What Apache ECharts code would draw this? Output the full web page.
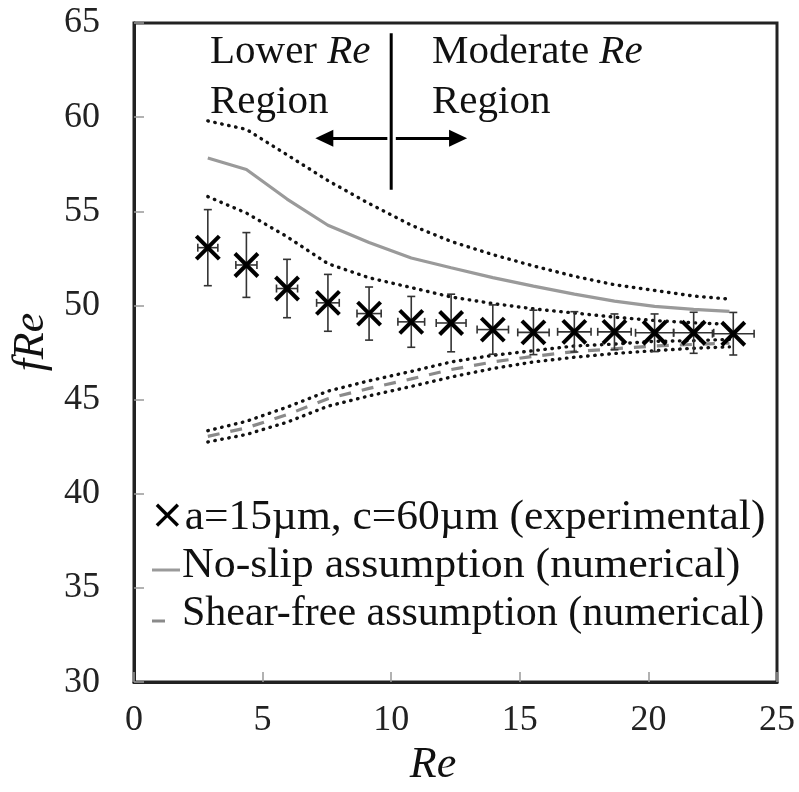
<!DOCTYPE html>
<html>
<head>
<meta charset="utf-8">
<script src="https://cdn.jsdelivr.net/npm/echarts@6/dist/echarts.min.js"></script>
<style>
  html, body { margin: 0; padding: 0; background: #fff; }
  #chart { width: 799px; height: 792px; }
</style>
</head>
<body>
<div id="chart"></div>
<script>
// experimental points (a=15um, c=60um)
var expRe = [2.87, 4.37, 5.95, 7.54, 9.14, 10.78, 12.33, 13.95, 15.53, 17.12, 18.68, 20.24, 21.76, 23.3];
var expFRe = [53.07, 52.15, 50.9, 50.14, 49.57, 49.13, 49.07, 48.72, 48.57, 48.6, 48.6, 48.55, 48.55, 48.5];
var expFReErr = [2.02, 1.72, 1.55, 1.51, 1.41, 1.35, 1.53, 1.31, 1.18, 1.07, 0.95, 1.0, 1.09, 1.13];
var expReErr = [0.39, 0.41, 0.41, 0.44, 0.47, 0.52, 0.58, 0.61, 0.61, 0.65, 0.65, 0.74, 0.78, 0.81];

// numerical curves
var numRe = [2.87, 4.37, 5.95, 7.54, 9.14, 10.78, 12.33, 13.95, 15.53, 17.12, 18.68, 20.24, 21.76, 23.15];
var noSlip = [57.83, 57.22, 55.65, 54.26, 53.34, 52.52, 52.0, 51.48, 51.03, 50.6, 50.23, 49.95, 49.79, 49.69];
var noSlipUpper = [59.8, 59.35, 58.0, 56.63, 55.41, 54.26, 53.4, 52.7, 52.1, 51.55, 51.1, 50.8, 50.5, 50.34];
var noSlipLower = [55.78, 54.91, 53.65, 52.22, 51.47, 50.95, 50.45, 50.1, 49.82, 49.6, 49.38, 49.2, 49.08, 49.0];
var shearFree = [43.05, 43.5, 44.2, 45.05, 45.6, 46.1, 46.6, 47.0, 47.3, 47.55, 47.7, 47.85, 47.93, 48.0];
var shearFreeUpper = [43.35, 43.85, 44.6, 45.45, 46.0, 46.5, 47.0, 47.35, 47.6, 47.85, 47.95, 48.1, 48.13, 48.2];
var shearFreeLower = [42.75, 43.15, 43.8, 44.65, 45.2, 45.7, 46.2, 46.65, 47.0, 47.25, 47.45, 47.6, 47.73, 47.8];

// region divider and arrows
var dividerLine = [[10, 64.45], [10, 56.15]];
var arrowY = 58.88;
var arrowLeft = [9.85, 7.4];
var arrowRight = [10.18, 12.6];

var serif = 'Liberation Serif';

function pairs(xs, ys) {
  return xs.map(function (x, i) { return [x, ys[i]]; });
}

var dotted = { color: '#111', width: 3.4, type: [0.5, 6.6], cap: 'round' };

function lineSeries(data, style) {
  return {
    type: 'line',
    data: data,
    showSymbol: false,
    symbol: 'none',
    silent: true,
    lineStyle: style,
    z: 2
  };
}

function renderExp(params, api) {
  var x = api.value(0), y = api.value(1), ex = api.value(2), ey = api.value(3);
  var c = api.coord([x, y]);
  var top = api.coord([x, y + ey]);
  var bot = api.coord([x, y - ey]);
  var lft = api.coord([x - ex, y]);
  var rgt = api.coord([x + ex, y]);
  var cap = 4, s = 11.5;
  var bar = { stroke: '#333', lineWidth: 1.6 };
  var mk = { stroke: '#000', lineWidth: 4 };
  function ln(x1, y1, x2, y2, st) {
    return { type: 'line', shape: { x1: x1, y1: y1, x2: x2, y2: y2 }, style: st };
  }
  return {
    type: 'group',
    children: [
      ln(top[0], top[1], bot[0], bot[1], bar),
      ln(top[0] - cap, top[1], top[0] + cap, top[1], bar),
      ln(bot[0] - cap, bot[1], bot[0] + cap, bot[1], bar),
      ln(lft[0], lft[1], rgt[0], rgt[1], bar),
      ln(lft[0], lft[1] - cap, lft[0], lft[1] + cap, bar),
      ln(rgt[0], rgt[1] - cap, rgt[0], rgt[1] + cap, bar),
      ln(c[0] - s, c[1] - s, c[0] + s, c[1] + s, mk),
      ln(c[0] - s, c[1] + s, c[0] + s, c[1] - s, mk)
    ]
  };
}

var chart = echarts.init(document.getElementById('chart'));

var italicRich = { i: { fontFamily: serif, fontStyle: 'italic', fontSize: 41, fill: '#111' } };

var option = {
  animation: false,
  backgroundColor: '#fff',
  grid: {
    left: 134, right: 22, top: 23, bottom: 100,
    show: true, borderColor: '#222', borderWidth: 3, backgroundColor: 'transparent'
  },
  xAxis: {
    type: 'value', min: 0, max: 25, interval: 5,
    name: 'Re', nameLocation: 'middle', nameGap: 58,
    nameTextStyle: { fontFamily: serif, fontStyle: 'italic', fontSize: 44, color: '#111', padding: [0, 45, 0, 0] },
    axisLine: { show: true, lineStyle: { color: '#222', width: 3 } },
    axisTick: { show: true, inside: true, length: 10, lineStyle: { color: '#999', width: 1.5 } },
    axisLabel: { fontFamily: serif, fontSize: 36, color: '#222', margin: 20 },
    splitLine: { show: false }
  },
  yAxis: {
    type: 'value', min: 30, max: 65, interval: 5,
    name: 'fRe', nameLocation: 'middle', nameGap: 80,
    nameTextStyle: { fontFamily: serif, fontStyle: 'italic', fontSize: 44, color: '#111', padding: [0, 0, 0, 21] },
    axisLine: { show: true, lineStyle: { color: '#222', width: 3 } },
    axisTick: { show: true, inside: true, length: 10, lineStyle: { color: '#999', width: 1.5 } },
    axisLabel: { fontFamily: serif, fontSize: 36, color: '#222', margin: 34 },
    splitLine: { show: false }
  },
  series: [
    lineSeries(pairs(numRe, noSlipUpper), dotted),
    lineSeries(pairs(numRe, noSlipLower), dotted),
    lineSeries(pairs(numRe, noSlip), { color: '#9a9a9a', width: 3.2 }),
    lineSeries(pairs(numRe, shearFreeUpper), dotted),
    lineSeries(pairs(numRe, shearFreeLower), dotted),
    lineSeries(pairs(numRe, shearFree), { color: '#8a8a8a', width: 3.2, type: [12, 11] }),
    {
      type: 'custom',
      renderItem: renderExp,
      data: expRe.map(function (r, i) { return [r, expFRe[i], expReErr[i], expFReErr[i]]; }),
      silent: true,
      z: 5
    },
    {
      type: 'line',
      data: dividerLine,
      symbol: 'none',
      silent: true,
      lineStyle: { color: '#000', width: 3 },
      z: 4,
      markLine: {
        silent: true,
        symbol: ['none', 'triangle'],
        symbolSize: [17, 18],
        label: { show: false },
        lineStyle: { color: '#000', width: 3, type: 'solid' },
        data: [
          [{ coord: [arrowLeft[0], arrowY] }, { coord: [arrowLeft[1], arrowY] }],
          [{ coord: [arrowRight[0], arrowY] }, { coord: [arrowRight[1], arrowY] }]
        ]
      }
    }
  ],
  graphic: [
    {
      type: 'text', left: 210, top: 27, silent: true,
      style: { text: 'Lower {i|Re}\nRegion', fill: '#111', font: '41px ' + serif, lineHeight: 50, rich: italicRich }
    },
    {
      type: 'text', left: 432, top: 27, silent: true,
      style: { text: 'Moderate {i|Re}\nRegion', fill: '#111', font: '41px ' + serif, lineHeight: 50, rich: italicRich }
    },
    {
      type: 'text', x: 150, y: 518, scaleX: 1.035, silent: true,
      style: {
        text: '{x|×}a=15µm, c=60µm (experimental)', fill: '#111', font: '42px ' + serif, verticalAlign: 'middle',
        rich: { x: { fontFamily: 'DejaVu Sans', fontSize: 40, fill: '#000' } }
      }
    },
    {
      type: 'line', silent: true,
      shape: { x1: 152, y1: 570, x2: 180, y2: 570 },
      style: { stroke: '#9a9a9a', lineWidth: 3 }
    },
    {
      type: 'text', x: 182, y: 566, scaleX: 1.045, silent: true,
      style: { text: 'No-slip assumption (numerical)', fill: '#111', font: '42px ' + serif, verticalAlign: 'middle' }
    },
    {
      type: 'line', silent: true,
      shape: { x1: 152, y1: 621, x2: 165, y2: 621 },
      style: { stroke: '#8a8a8a', lineWidth: 3 }
    },
    {
      type: 'text', x: 182, y: 614, silent: true,
      style: { text: 'Shear-free assumption (numerical)', fill: '#111', font: '42px ' + serif, verticalAlign: 'middle' }
    }
  ]
};

chart.setOption(option);
</script>
</body>
</html>
